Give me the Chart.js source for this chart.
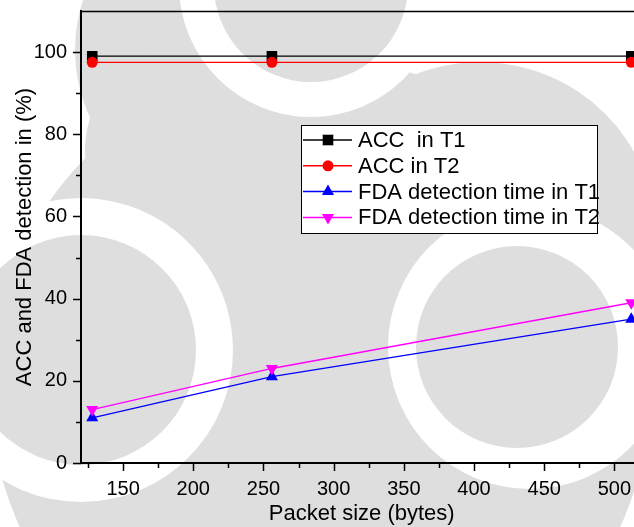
<!DOCTYPE html>
<html>
<head>
<meta charset="utf-8">
<script src="https://cdn.jsdelivr.net/npm/chart.js@4.4.1/dist/chart.umd.min.js"></script>
<style>
  html, body { margin: 0; padding: 0; background: #fff; overflow: hidden; width: 634px; height: 527px; }
  #wrap { position: absolute; left: 0; top: 0; width: 660px; height: 527px; }
</style>
</head>
<body>
<div id="wrap"><canvas id="c" width="660" height="527"></canvas></div>
<script>
// Packet sizes (bytes) on the x axis
const packetSizes = [128, 256, 512];
// Accuracy (%) per scenario
const accT1 = [99, 99, 99];
const accT2 = [97.5, 97.5, 97.5];
// FDA detection values per scenario
const fdaT1 = [11, 21, 35];
const fdaT2 = [13, 23, 39];

const seriesLabels = ['ACC  in T1', 'ACC in T2', 'FDA detection time in T1', 'FDA detection time in T2'];
const xTitle = 'Packet size (bytes)';
const yTitle = 'ACC and FDA detection in (%)';
const xTickLabels = [150, 200, 250, 300, 350, 400, 450, 500];
const yTickLabels = [0, 20, 40, 60, 80, 100];
// minor tick marks sit halfway between labelled ones
const xMinorTicks = [125, 175, 225, 275, 325, 375, 425, 475];
const yMinorTicks = [10, 30, 50, 70, 90];

const FONT = '"Liberation Sans", Arial, sans-serif';
Chart.defaults.font.family = FONT;
Chart.defaults.color = '#000';

const toPoints = (ys) => packetSizes.map((x, i) => ({ x: x, y: ys[i] }));
const tickList = (major, minor) => major.concat(minor).sort((a, b) => a - b).map(v => ({ value: v }));

// Soft grey circular backdrop behind the plot
const backdrop = {
  id: 'backdrop',
  beforeDraw(chart) {
    const ctx = chart.ctx;
    const grey = '#dedede';
    ctx.save();
    ctx.fillStyle = '#fff';
    ctx.fillRect(0, 0, chart.width, chart.height);
    const disc = (x, y, r, c) => { ctx.beginPath(); ctx.arc(x, y, r, 0, Math.PI * 2); ctx.fillStyle = c; ctx.fill(); };
    // outer grey field
    disc(320, 390, 330, grey);
    disc(480, 239, 177, grey);
    disc(235, 50, 160, grey);
    disc(190, 150, 105, grey);
    // white rings
    disc(311, -15, 132, '#fff');
    disc(81, 350, 152, '#fff');
    disc(530, 347, 142, '#fff');
    // inner grey discs
    disc(311, -15, 97, grey);
    disc(81, 350, 115, grey);
    disc(517, 347, 101, grey);
    ctx.restore();
  }
};

// Top/right frame lines and major/minor tick marks
const frame = {
  id: 'frame',
  afterDraw(chart) {
    const ctx = chart.ctx;
    const a = chart.chartArea;
    const xs = chart.scales.x, ys = chart.scales.y;
    ctx.save();
    ctx.strokeStyle = '#000';
    ctx.lineWidth = 1.5;
    ctx.beginPath();
    ctx.moveTo(a.left, a.top + 0.5); ctx.lineTo(a.right, a.top + 0.5);
    ctx.moveTo(a.right, a.top); ctx.lineTo(a.right, a.bottom);
    ctx.stroke();
    ctx.beginPath();
    xs.ticks.forEach(t => {
      const px = Math.round(xs.getPixelForValue(t.value)) + 0.5;
      const len = xTickLabels.includes(t.value) ? 8 : 5;
      ctx.moveTo(px, a.bottom); ctx.lineTo(px, a.bottom + len);
    });
    ys.ticks.forEach(t => {
      const py = Math.round(ys.getPixelForValue(t.value)) + 0.5;
      const len = yTickLabels.includes(t.value) ? 8 : 5;
      ctx.moveTo(a.left, py); ctx.lineTo(a.left - len, py);
    });
    ctx.stroke();
    ctx.restore();
  }
};

// Boxed legend inside the plot area
const boxLegend = {
  id: 'boxLegend',
  afterDraw(chart) {
    const ctx = chart.ctx;
    const box = { x: 301.5, y: 125.5, w: 296, h: 108 };
    ctx.save();
    ctx.fillStyle = '#fff';
    ctx.fillRect(box.x, box.y, box.w, box.h);
    ctx.strokeStyle = '#000';
    ctx.lineWidth = 1;
    ctx.strokeRect(box.x, box.y, box.w, box.h);
    ctx.font = '22px ' + FONT;
    ctx.textBaseline = 'middle';
    ctx.textAlign = 'left';
    chart.data.datasets.forEach((ds, i) => {
      const cy = 140 + i * 25.8;
      ctx.strokeStyle = ds.borderColor;
      ctx.lineWidth = 1.5;
      ctx.beginPath();
      ctx.moveTo(303, cy); ctx.lineTo(352, cy);
      ctx.stroke();
      ctx.fillStyle = ds.pointBackgroundColor;
      Chart.helpers.drawPoint(ctx, {
        pointStyle: ds.pointStyle, radius: ds.pointRadius, rotation: ds.pointRotation || 0, borderWidth: 0
      }, 328, cy);
      ctx.fillStyle = '#000';
      ctx.fillText(ds.label, 358, cy + 1);
    });
    ctx.restore();
  }
};

const mk = (label, data, color, style, radius, rot, order) => ({
  label: label,
  data: toPoints(data),
  borderColor: color,
  backgroundColor: color,
  pointBackgroundColor: color,
  pointBorderColor: color,
  pointBorderWidth: 0,
  borderWidth: 1.3,
  pointStyle: style,
  pointRadius: radius,
  pointHoverRadius: radius,
  pointRotation: rot,
  tension: 0,
  order: order
});

new Chart(document.getElementById('c'), {
  type: 'line',
  data: {
    datasets: [
      mk(seriesLabels[0], accT1, '#000000', 'rect', 7.5, 0, 4),
      mk(seriesLabels[1], accT2, '#ff0000', 'circle', 5.5, 0, 3),
      mk(seriesLabels[2], fdaT1, '#0000ff', 'triangle', 7, 0, 2),
      mk(seriesLabels[3], fdaT2, '#ff00ff', 'triangle', 7, 180, 1)
    ]
  },
  options: {
    responsive: false,
    animation: false,
    events: [],
    layout: { padding: { top: 11, right: 17.5, left: 0, bottom: 0 } },
    plugins: { legend: { display: false }, tooltip: { enabled: false } },
    scales: {
      x: {
        type: 'linear',
        min: 120, max: 520,
        border: { color: '#000', width: 2 },
        grid: { drawOnChartArea: false, drawTicks: true, tickLength: 8, tickColor: 'rgba(0,0,0,0)' },
        afterBuildTicks: (s) => { s.ticks = tickList(xTickLabels, xMinorTicks); },
        ticks: {
          autoSkip: false, maxRotation: 0, minRotation: 0, padding: 6,
          font: { size: 20 }, color: '#000',
          callback: (v) => xTickLabels.includes(v) ? String(v) : ''
        },
        title: { display: true, text: xTitle, font: { size: 22 }, color: '#000', padding: { top: 0, bottom: 0 } },
        afterFit: (s) => { s.height = 64; s.paddingLeft = 0; s.paddingRight = 0; }
      },
      y: {
        type: 'linear',
        min: 0, max: 110,
        border: { color: '#000', width: 2 },
        grid: { drawOnChartArea: false, drawTicks: true, tickLength: 8, tickColor: 'rgba(0,0,0,0)' },
        afterBuildTicks: (s) => { s.ticks = tickList(yTickLabels, yMinorTicks); },
        ticks: {
          autoSkip: false, padding: 6,
          font: { size: 20 }, color: '#000',
          callback: (v) => yTickLabels.includes(v) ? String(v) : ''
        },
        title: { display: true, text: yTitle, font: { size: 22 }, color: '#000', padding: { top: 12, bottom: 0 } },
        afterFit: (s) => { s.width = 81; s.paddingTop = 0; s.paddingBottom = 0; }
      }
    }
  },
  plugins: [backdrop, frame, boxLegend]
});
</script>
</body>
</html>
